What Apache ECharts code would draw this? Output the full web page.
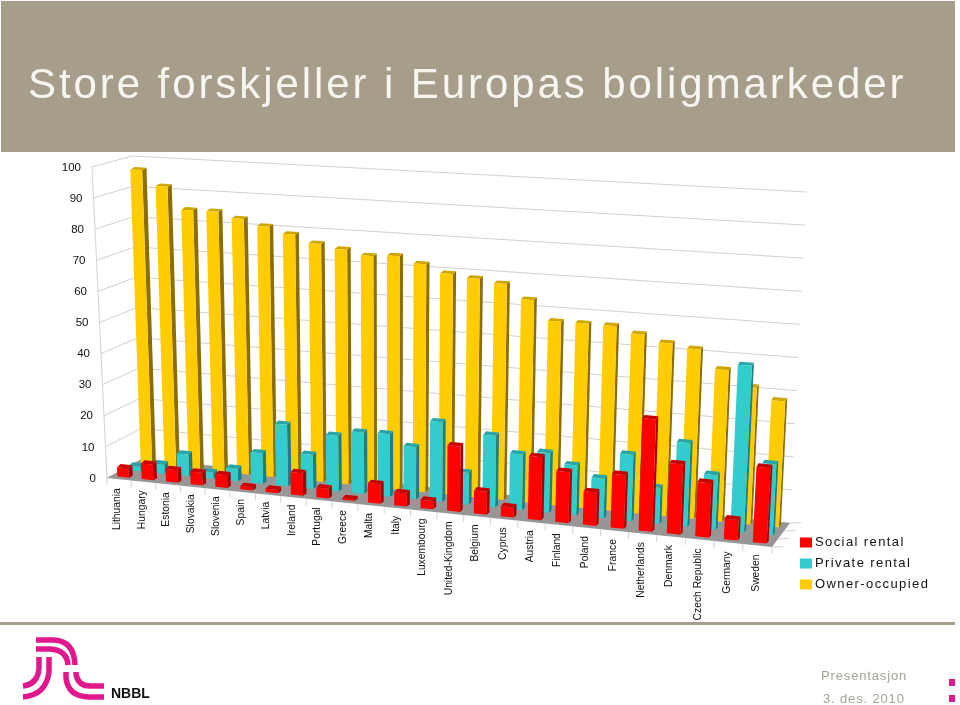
<!DOCTYPE html>
<html><head><meta charset="utf-8">
<style>html,body{margin:0;padding:0;background:#fff}#c{width:960px;height:705px}</style>
<script src="https://cdn.jsdelivr.net/npm/echarts@6/dist/echarts.min.js"></script>
</head><body><div id="c"></div>
<script>
const categories = ['Lithuania','Hungary','Estonia','Slovakia','Slovenia','Spain','Latvia','Ireland','Portugal','Greece','Malta','Italy','Luxembourg','United-Kingdom','Belgium','Cyprus','Austria','Finland','Poland','France','Netherlands','Denmark','Czech Republic','Germany','Sweden'];
const ownerOccupied = [96.5,91.5,84.3,84.3,82.5,80.5,78.5,76,74.7,73.2,73.7,71.7,69.2,68.3,67.2,62.8,56.7,56.7,56.6,54.7,52.6,51.4,45.8,41.2,37.8];
const privateRental = [1.5,3,7,2,4,9.7,19.5,10.7,17.5,19.3,19.5,16.2,24.7,9.8,22,17,18.2,15.2,12,20,10.8,25,16.2,49.5,21];
const socialRental = [3,5,4,4,4,1,1,7,3,0.5,6,4,2.5,20,7,3,19,15.3,10,16,33.3,20.7,16,6,22];
const yTicks = [0,10,20,30,40,50,60,70,80,90,100];
const BAND='#A69E8A', PINK='#E0188C';

const C={FLB:[107,478],BLB:[142,459],BRB:[790,523],FRB:[772,547],FLT:[92,167],BLT:[132,156],BRT:[807,192],FRT:[790,202]};
const K=1.1;
function lerp(a,b,t){return [a[0]+(b[0]-a[0])*t,a[1]+(b[1]-a[1])*t];}
function proj(u,v,w){
  const s=u/(u+K*(1-u));
  const bottom=lerp(lerp(C.FLB,C.FRB,s),lerp(C.BLB,C.BRB,s),v);
  const top=lerp(lerp(C.FLT,C.FRT,s),lerp(C.BLT,C.BRT,s),v);
  return lerp(bottom,top,w);
}
const GRID={left:92,top:167,width:700,height:311};
function uOf(api,i,f){
  const g=api.coord([i,0])[0], bw=api.size([1,0])[0];
  return (g+f*bw-GRID.left)/GRID.width;
}
function wOf(api,val){
  const y0=api.coord([0,0])[1], y1=api.coord([0,100])[1];
  return (y0-api.coord([0,val])[1])/(y0-y1);
}
function barSeries(name,values,vf,vb,col,side,top){
  return {type:'custom',name,silent:true,clip:false,itemStyle:{color:col},
    encode:{x:0,y:1},data:values.map((v,i)=>[i,v]),
    renderItem(params,api){
      const i=api.value(0),w=wOf(api,api.value(1));
      const u0=uOf(api,i,-0.23),u1=uOf(api,i,0.25);
      const a=proj(u0,vf,0),b=proj(u1,vf,0),c=proj(u1,vf,w),d=proj(u0,vf,w);
      const e=proj(u1,vb,0),f=proj(u1,vb,w),g=proj(u0,vb,w);
      f[1]-=1.2; g[1]-=1.2;
      return {type:'group',children:[
        {type:'polygon',shape:{points:[b,e,f,c]},style:{fill:side}},
        {type:'polygon',shape:{points:[d,c,f,g]},style:{fill:top}},
        {type:'polygon',shape:{points:[a,b,c,d]},style:{fill:col}}
      ]};
    }};
}
const LINE='#d2d2d2';
const wallSeries={type:'custom',silent:true,clip:false,encode:{x:0,y:1},data:yTicks.map(v=>[0,v]),
  renderItem(params,api){
    const w=wOf(api,api.value(1));
    const a=proj(0,0,w),b=proj(0,1,w),c=proj(1,1,w);
    return {type:'group',children:[
      {type:'polyline',shape:{points:[a,b,c]},style:{stroke:LINE,lineWidth:1,fill:null}},
      {type:'text',x:a[0]-11,y:a[1]+0.5,style:{text:String(api.value(1)),align:'right',verticalAlign:'middle',font:'11.5px "Liberation Sans"',fill:'#111'}}
    ]};
  }};
const floorSeries={type:'custom',silent:true,clip:false,encode:{x:0,y:1},data:[[0,0]],
  renderItem(){
    const p=[proj(0,0,0),proj(0,1,0),proj(1,1,0),proj(1,0,0)];
    const kids=[
      {type:'polyline',shape:{points:[proj(0,0,0),proj(0,0,1)]},style:{stroke:LINE,fill:null}},
      {type:'polygon',shape:{points:p},style:{fill:'#969696'}}
    ];
    [0,1/3,2/3,1].forEach(v=>{const q=proj(1,v,0);kids.push({type:'line',shape:{x1:q[0],y1:q[1],x2:q[0]+11,y2:q[1]-0.5},style:{stroke:LINE}});});
    return {type:'group',children:kids};
  }};
const labelSeries={type:'custom',silent:true,clip:false,encode:{x:0,y:1},data:categories.map((c,i)=>[i,0]),
  renderItem(params,api){
    const i=api.value(0);
    const t=proj(uOf(api,i,-0.5),0,0), m=proj(uOf(api,i,0),0,0);
    const s=i/24;
    const kids=[
      {type:'line',shape:{x1:t[0],y1:t[1],x2:t[0],y2:t[1]+7},style:{stroke:LINE}},
      {type:'text',x:m[0]-1.5,y:m[1]+9+2.5*s-2.5*Math.min(1,i/4),rotation:Math.PI/2,style:{text:categories[i],align:'right',verticalAlign:'middle',font:'10.3px "Liberation Sans"',fill:'#111'}}
    ];
    if(i===24){const e=proj(uOf(api,i,0.5),0,0);kids.push({type:'line',shape:{x1:e[0],y1:e[1],x2:e[0],y2:e[1]+7},style:{stroke:LINE}});}
    return {type:'group',children:kids};
  }};
const logoPaths=['M36 640 L54 640 Q74 641 75 665','M36 649 L50 649 Q67 650 68 665','M39 657 L39 668 Q38 684 23 686','M49 657 L49 672 Q46 695 23 697','M66 672 L66 678 Q68 696 88 697 L104 697','M76 672 L76 674 Q78 686 90 686 L104 686'];
const logoSeries={type:'custom',silent:true,clip:false,encode:{x:0,y:1},data:[[0,0]],
  renderItem(){return {type:'group',children:logoPaths.map(d=>({type:'path',shape:{pathData:d},style:{fill:null,stroke:PINK,lineWidth:5.5}}))};}};
const option={
  animation:false,backgroundColor:'#fff',
  grid:GRID,
  xAxis:{type:'category',data:categories,show:false},
  yAxis:{type:'value',min:0,max:100,interval:10,show:false},
  legend:{data:['Social rental','Private rental','Owner-occupied'],orient:'vertical',left:800,top:536,icon:'rect',itemWidth:12,itemHeight:10,itemGap:8,selectedMode:false,zlevel:3,
    textStyle:{fontFamily:'Liberation Sans',fontSize:13,color:'#111',padding:[0,0,0,-2]},padding:0},
  series:[wallSeries,floorSeries,labelSeries,logoSeries,
    barSeries('Owner-occupied',ownerOccupied,0.78,0.89,'#FFCC00','#8C6D00','#CFA500'),
    barSeries('Private rental',privateRental,0.445,0.555,'#33CCCC','#1B7F85','#28A5A8'),
    barSeries('Social rental',socialRental,0.11,0.22,'#FF0000','#A80000','#C80000')],
  graphic:{elements:[
    {type:'rect',shape:{x:1,y:1,width:954,height:151},style:{fill:BAND},silent:true},
    {type:'text',zlevel:2,x:28,y:86,style:{text:'Store forskjeller i Europas boligmarkeder',font:'42px "Liberation Sans"',fill:'#f6f5f0',align:'left',verticalAlign:'middle'}},
    {type:'rect',shape:{x:0,y:622,width:955,height:3},style:{fill:BAND},silent:true},
    {type:'text',x:111,y:694.5,style:{text:'NBBL',font:'bold 14px "Liberation Sans"',fill:'#111',align:'left',verticalAlign:'middle'}},
    {type:'text',zlevel:4,x:821,y:676,style:{text:'Presentasjon',font:'13px "Liberation Sans"',fill:'#a5a297',align:'left',verticalAlign:'middle'}},
    {type:'text',zlevel:4,x:823,y:699,style:{text:'3. des. 2010',font:'13px "Liberation Sans"',fill:'#a5a297',align:'left',verticalAlign:'middle'}},
    {type:'rect',shape:{x:949,y:679,width:6,height:7},style:{fill:PINK},silent:true},
    {type:'rect',shape:{x:949,y:695,width:6,height:7},style:{fill:PINK},silent:true}
  ]}
};
const chart=echarts.init(document.getElementById('c'),null,{renderer:'canvas'});
chart.setOption(option);
const painter=chart.getZr().painter;
painter.getLayer(2).ctx.letterSpacing='2.92px';
painter.getLayer(3).ctx.letterSpacing='1.4px';
painter.getLayer(4).ctx.letterSpacing='0.85px';
painter.refresh(true);
</script></body></html>
